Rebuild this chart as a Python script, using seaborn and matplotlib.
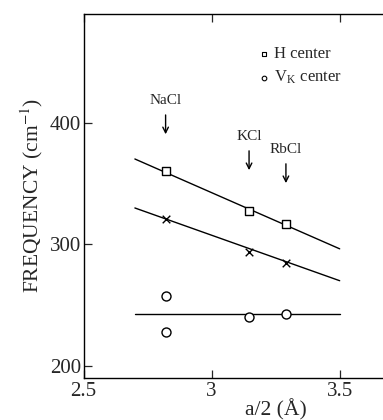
import matplotlib
matplotlib.use("Agg")
import matplotlib.pyplot as plt
import seaborn as sns
import pandas as pd

# Data
salts = ["NaCl", "KCl", "RbCl"]
salt_x = [2.82, 3.146, 3.29]
h_x = [2.82, 3.146, 3.29]
h_y = [360.5, 327.6, 317.0]
x_x = [2.82, 3.146, 3.29]
x_y = [321.0, 293.6, 285.0]
vk_x = [2.82, 2.82, 3.146, 3.29]
vk_y = [257.6, 227.7, 240.3, 242.8]
fit_x = [2.7, 3.5]
fit_h = [370.4, 296.3]
fit_x_series = [330.0, 270.0]
fit_vk = [242.2, 242.2]
arrow_top = [409.0, 379.4, 368.7]
arrow_len = 20.5

sns.set_style("ticks")
plt.rcParams['font.family'] = ['Liberation Serif', 'DejaVu Serif']
plt.rcParams['mathtext.fontset'] = 'stix'

fig = plt.figure(figsize=(3.83, 4.2), dpi=100)
ax = fig.add_axes([0.2185, 0.1007, 1.0026, 0.866])

fits = pd.DataFrame({"x": fit_x * 3, "y": fit_h + fit_x_series + fit_vk,
                     "s": ["h"] * 2 + ["x"] * 2 + ["v"] * 2})
sns.lineplot(data=fits, x="x", y="y", units="s", estimator=None, color="black",
             lw=1.0, ax=ax, legend=False)

sns.scatterplot(x=h_x, y=h_y, marker="s", s=36, facecolor="white",
                edgecolor="black", linewidth=1.0, ax=ax, zorder=3)
sns.scatterplot(x=x_x, y=x_y, marker="x", s=30, color="black",
                linewidth=1.0, ax=ax, zorder=3)
sns.scatterplot(x=vk_x, y=vk_y, marker="o", s=42, facecolor="white",
                edgecolor="black", linewidth=1.0, ax=ax, zorder=3)

for name, sx, top in zip(salts, salt_x, arrow_top):
    ax.annotate("", xy=(sx, top - arrow_len), xytext=(sx, top),
                arrowprops=dict(arrowstyle="->", color="black", lw=1.0,
                                mutation_scale=10))
    ax.text(sx, top + 4, name, ha="center", va="bottom", fontsize=11)

# legend
ax.scatter([3.203], [457], marker="s", s=11, facecolor="white",
           edgecolor="black", linewidth=0.8, zorder=3)
ax.text(3.245, 457, "H center", va="center", fontsize=12)
ax.scatter([3.203], [437.5], marker="o", s=11, facecolor="white",
           edgecolor="black", linewidth=0.8, zorder=3)
ax.text(3.245, 437.5, r"V$_\mathregular{K}$ center", va="center", fontsize=12)

ax.set_xlim(2.5, 4.0)
ax.set_ylim(190, 490)
ax.set_xticks([2.5, 3, 3.5])
ax.set_xticklabels(["2.5", "3", "3.5"])
ax.set_yticks([200, 300, 400])
ax.tick_params(direction="in", top=True, length=6, width=0.9, labelsize=15, pad=2)
ax.tick_params(axis="x", pad=3)
for sp in ax.spines.values():
    sp.set_linewidth(1.0)
    sp.set_color("black")
ax.set_xlabel("a/2 (Å)", fontsize=15.5, labelpad=-1)
ax.set_ylabel(r"FREQUENCY (cm$^{-1}$)", fontsize=15.5, labelpad=3)

fig.savefig("out.png", dpi=100)
